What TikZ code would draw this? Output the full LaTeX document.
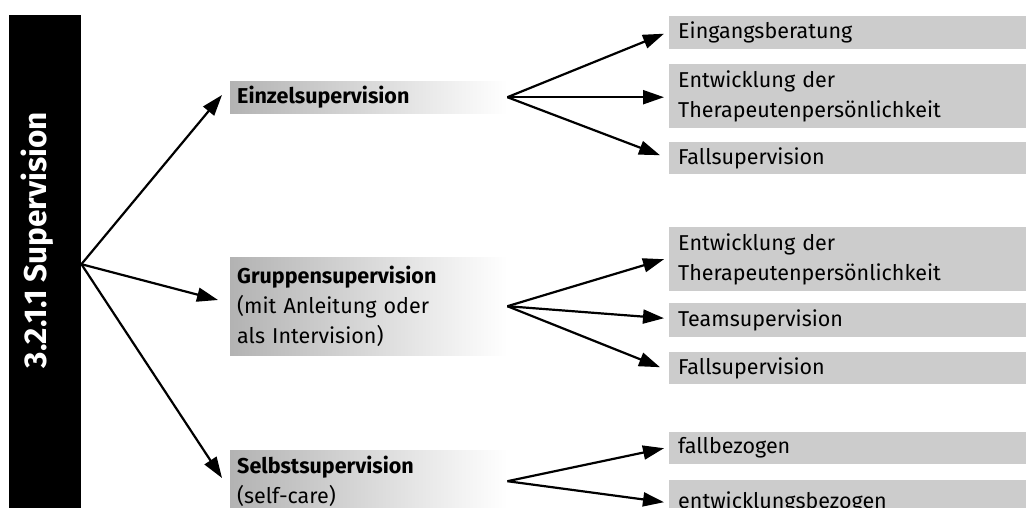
\documentclass[tikz,border=0pt]{standalone}
\usepackage{fontspec}
\setmainfont{Fira Sans}
\usetikzlibrary{arrows.meta}

\tikzset{
  titlebar/.style={fill=black, minimum width=72pt, minimum height=498pt,
    inner sep=0pt, anchor=north west},
  titletext/.style={text=white, rotate=90, anchor=base, inner sep=0pt,
    font=\fontsize{31.5}{36}\selectfont\bfseries},
  midbox/.style={anchor=north west, shade, left color=black!30, right color=white,
    minimum width=277pt, text width=263pt, inner xsep=7pt, inner ysep=0pt,
    align=left, font=\fontsize{21.5}{30}\selectfont},
  leafbox/.style={anchor=north west, fill=black!20,
    minimum width=357pt, text width=339pt, inner xsep=9pt, inner ysep=0pt,
    align=left, font=\fontsize{21.5}{30}\selectfont},
  link/.style={line width=2.2pt, -{Triangle[length=21pt,width=14pt]}}
}

\begin{document}
\begin{tikzpicture}[x=1pt, y=-1pt]
\useasboundingbox (0,0) rectangle (1026,507);
\clip (0,0) rectangle (1026,507);

% title bar
\node[titlebar] (bar) at (9,15) {};
\node[titletext] (title) at (46,240) {3.2.1.1 Supervision};

% second level
\node[midbox, minimum height=32pt] (einzel) at (230,81) {\textbf{Einzelsupervision}};
\node[midbox, minimum height=98pt] (gruppen) at (230,257)
  {\textbf{Gruppensupervision}\\(mit Anleitung oder\\als Intervision)};
\node[midbox, minimum height=62pt] (selbst) at (230,450)
  {\textbf{Selbstsupervision}\\(self-care)};

% third level
\node[leafbox, minimum height=33pt] (e1) at (669,16) {Eingangsberatung};
\node[leafbox, minimum height=64pt] (e2) at (669,64) {Entwicklung der\\Therapeutenpersönlichkeit};
\node[leafbox, minimum height=32pt] (e3) at (669,142) {Fallsupervision};

\node[leafbox, minimum height=64pt] (g1) at (669,227) {Entwicklung der\\Therapeutenpersönlichkeit};
\node[leafbox, minimum height=34pt] (g2) at (669,303) {Teamsupervision};
\node[leafbox, minimum height=32pt] (g3) at (669,352) {Fallsupervision};

\node[leafbox, minimum height=32pt] (s1) at (669,432) {fallbezogen};
\node[leafbox, minimum height=44pt] (s2) at (669,480) {entwicklungsbezogen};

% connectors
\draw[link] (bar.east) -- ([xshift=-8pt,yshift=-14pt]einzel.north west);
\draw[link] (bar.east) -- ([xshift=-12pt,yshift=-43pt]gruppen.north west);
\draw[link] (bar.east) -- ([xshift=-8pt,yshift=-28pt]selbst.north west);

\draw[link] (einzel.east) -- ([xshift=-5pt,yshift=-1pt]e1.west);
\draw[link] (einzel.east) -- ([xshift=-5pt,yshift=-1pt]e2.west);
\draw[link] (einzel.east) -- ([xshift=-9pt,yshift=3pt]e3.west);

\draw[link] (gruppen.east) -- ([xshift=-5pt]g1.west);
\draw[link] (gruppen.east) -- ([xshift=-5pt,yshift=2pt]g2.west);
\draw[link] (gruppen.east) -- ([xshift=-9pt,yshift=1pt]g3.west);

\draw[link] (selbst.east) -- ([xshift=-5pt]s1.west);
\draw[link] (selbst.east) -- ([xshift=-5pt]s2.west);
\end{tikzpicture}
\end{document}
